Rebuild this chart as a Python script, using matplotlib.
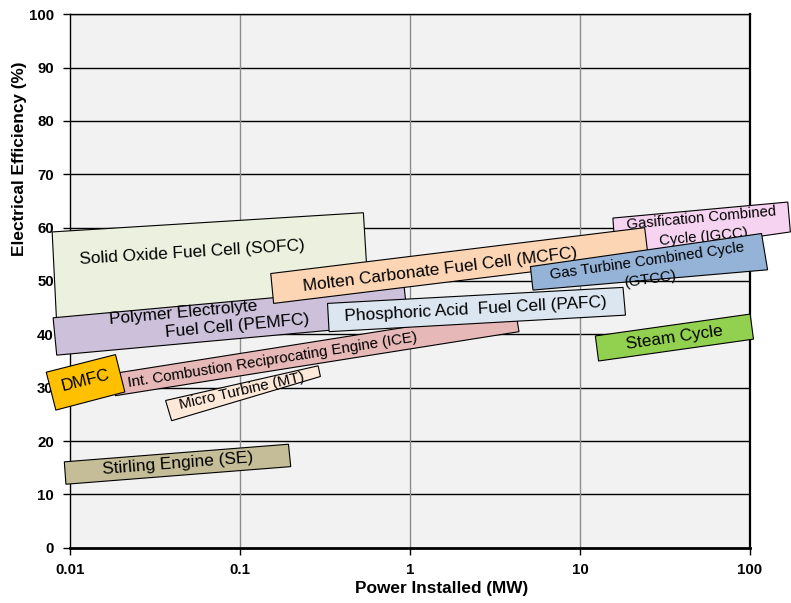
import numpy as np
import matplotlib.pyplot as plt

plt.rcParams['font.family'] = ['Liberation Sans', 'DejaVu Sans']

# technologies in drawing order (later ones sit on top)
techs = ['SOFC', 'PEMFC', 'IGCC', 'MCFC', 'GTCC', 'ICE', 'PAFC', 'DMFC', 'MT', 'SE', 'Steam']

# band corners: top-left, top-right, bottom-right, bottom-left
power_mw = [
    [0.0078, 0.53, 0.57, 0.0083],      # SOFC
    [0.0079, 0.92, 0.97, 0.0083],      # PEMFC
    [15.6, 167.0, 173.0, 16.2],        # IGCC
    [0.151, 24.0, 25.2, 0.157],        # MCFC
    [5.10, 117.0, 127.0, 5.28],        # GTCC
    [0.0175, 4.16, 4.37, 0.0184],      # ICE
    [0.326, 17.9, 18.5, 0.333],        # PAFC
    [0.0072, 0.0184, 0.0209, 0.0082],  # DMFC
    [0.0363, 0.287, 0.296, 0.0394],    # MT
    [0.0092, 0.192, 0.198, 0.0094],    # SE
    [12.3, 100.3, 104.9, 12.85],       # Steam
]
efficiency = [
    [59.2, 62.8, 46.4, 41.8],
    [43.1, 49.1, 42.1, 36.1],
    [61.8, 64.8, 59.2, 54.5],
    [51.4, 60.0, 54.4, 45.8],
    [52.7, 58.9, 52.1, 48.3],
    [32.6, 44.6, 40.5, 28.5],
    [45.8, 48.8, 43.6, 40.5],
    [32.9, 36.2, 29.2, 25.8],
    [27.6, 34.1, 32.1, 23.8],
    [16.1, 19.4, 15.2, 11.9],
    [39.7, 43.8, 39.1, 35.0],
]
colors = ['#EBF1DE', '#CCC0DA', '#F6D4F1', '#FCD5B4', '#95B3D7', '#E6B9B8',
          '#DCE6F1', '#FFC000', '#FDE9D9', '#C4BD97', '#92D050']

# label lines: (tech, text, power, efficiency, font size)
labels = [
    ('SOFC', 'Solid Oxide Fuel Cell (SOFC)', 0.0518, 55.3, 12.4),
    ('PEMFC', 'Polymer Electrolyte', 0.0459, 44.0, 12.4),
    ('PEMFC', 'Fuel Cell (PEMFC)', 0.0954, 41.6, 12.4),
    ('IGCC', 'Gasification Combined', 51.6, 61.8, 10.7),
    ('IGCC', 'Cycle (IGCC)', 53.3, 58.3, 10.7),
    ('MCFC', 'Molten Carbonate Fuel Cell (MCFC)', 1.51, 52.1, 12.4),
    ('GTCC', 'Gas Turbine Combined Cycle', 24.8, 53.8, 10.8),
    ('GTCC', '(GTCC)', 26.0, 50.4, 10.8),
    ('ICE', 'Int. Combustion Reciprocating Engine (ICE)', 0.155, 35.2, 10.9),
    ('PAFC', 'Phosphoric Acid  Fuel Cell (PAFC)', 2.43, 44.6, 12.4),
    ('DMFC', 'DMFC', 0.0123, 31.3, 12.4),
    ('MT', 'Micro Turbine (MT)', 0.102, 29.4, 10.9),
    ('SE', 'Stirling Engine (SE)', 0.0426, 15.7, 12.4),
    ('Steam', 'Steam Cycle', 36.0, 39.3, 12.4),
]

x_ticks = [0.01, 0.1, 1, 10, 100]
x_ticklabels = ['0.01', '0.1', '1', '10', '100']
y_ticks = list(range(0, 101, 10))

fig = plt.figure(figsize=(7.91, 6.03), dpi=100)
ax = fig.add_axes([0.0891, 0.0917, 0.8590, 0.8846])
ax.set_facecolor('#F2F2F2')
ax.set_xscale('log')
ax.set_xlim(0.01, 100)
ax.set_ylim(0, 100)

# grid: black horizontals, grey verticals
for y in y_ticks[1:]:
    ax.axhline(y, color='black', lw=1.0, zorder=1)
for x in x_ticks[1:-1]:
    ax.axvline(x, color='#8C8C8C', lw=1.0, zorder=1)

ax.set_xticks(x_ticks)
ax.set_xticklabels(x_ticklabels)
ax.minorticks_off()
ax.set_yticks(y_ticks)
ax.tick_params(axis='both', direction='out', length=5, width=1, labelsize=10.8, color='black')
ax.tick_params(axis='y', pad=7)
ax.tick_params(axis='x', pad=6)
for lab in ax.get_xticklabels() + ax.get_yticklabels():
    lab.set_fontweight('bold')

for side, lw in [('left', 1.0), ('bottom', 2.0), ('right', 1.6), ('top', 1.0)]:
    ax.spines[side].set_linewidth(lw)
    ax.spines[side].set_color('black')

# draw the bands
zorders = {}
for i, name in enumerate(techs):
    z = 3 + i
    zorders[name] = z
    ax.fill(power_mw[i], efficiency[i], facecolor=colors[i], edgecolor='black',
            lw=0.8, zorder=z, clip_on=False)

def top_angle(name):
    i = techs.index(name)
    p = ax.transData.transform(np.column_stack([power_mw[i][:2], efficiency[i][:2]]))
    return np.degrees(np.arctan2(p[1, 1] - p[0, 1], p[1, 0] - p[0, 0]))

for name, text, px, ey, size in labels:
    ax.text(px, ey, text, fontsize=size, ha='center', va='center',
            rotation=top_angle(name), rotation_mode='anchor',
            zorder=zorders[name] + 0.5, clip_on=False)

fig.text(20 / 791, 1 - 159 / 603, 'Electrical Efficiency (%)', rotation=90,
         ha='center', va='center', fontsize=12.4, fontweight='bold')
fig.text(442 / 791, 1 - 588 / 603, 'Power Installed (MW)',
         ha='center', va='center', fontsize=12.4, fontweight='bold')

fig.savefig('out.png', dpi=100)
